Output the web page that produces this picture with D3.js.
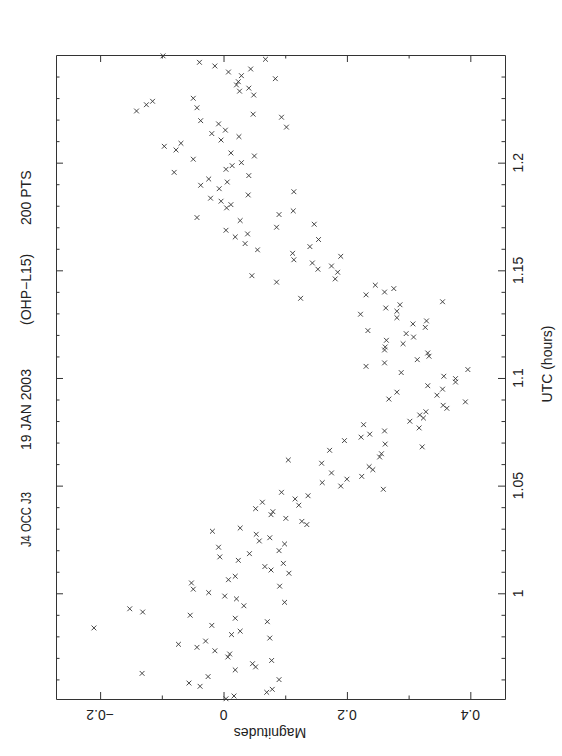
<!DOCTYPE html>
<html>
<head>
<meta charset="utf-8">
<script src="https://cdn.jsdelivr.net/npm/d3@7"></script>
<style>
  body { margin: 0; background: #fff; }
  svg text { font-family: "Liberation Sans", Arial, Helvetica, sans-serif; fill: #222; }
  .axis path, .axis line { stroke: #333; stroke-width: 1; }
</style>
</head>
<body>
<div class="chart"></div>
<script>
// J4 OCC J3 light curve, 200 points (UTC hours, magnitudes)
var utcHours = [
  1.2496, 1.2466, 1.2449, 1.2421, 1.2404, 1.2435, 1.2480, 1.2390, 1.2376, 1.2361,
  1.2332, 1.2346, 1.2314, 1.2299, 1.2285, 1.2269, 1.2240, 1.2255, 1.2225, 1.2211,
  1.2195, 1.2180, 1.2151, 1.2135, 1.2121, 1.2105, 1.2090, 1.2076, 1.2059, 1.2045,
  1.2031, 1.2016, 1.2000, 1.1986, 1.1969, 1.1955, 1.1940, 1.1924, 1.1910, 1.1895,
  1.1879, 1.1850, 1.1835, 1.1821, 1.1805, 1.1790, 1.1759, 1.1745, 1.1731, 1.1700,
  1.1686, 1.1669, 1.1655, 1.1624, 1.1595, 1.1475, 1.1445,
  1.2165, 1.1865, 1.1776, 1.1714, 1.1643, 1.1610, 1.1579, 1.1549, 1.1565, 1.1534,
  1.1505, 1.1520, 1.1491, 1.1460, 1.1431, 1.1386, 1.1399, 1.1415, 1.1370, 1.1354,
  1.1340, 1.1325, 1.1310, 1.1296, 1.1280, 1.1265, 1.1251, 1.1235, 1.1220, 1.1206,
  1.1190, 1.1175, 1.1159, 1.1144, 1.1130, 1.1116, 1.1101, 1.1085, 1.1070, 1.1054,
  1.1039, 1.1025, 1.1008,
  1.0469, 1.0393, 1.0423, 1.0379, 1.0365, 1.0288, 1.0303, 1.0274, 1.0243, 1.0258,
  1.0198, 1.0214, 1.0169, 1.0153, 1.0184, 1.0124, 1.0108,
  1.0033, 1.0048, 1.0019, 1.0063, 1.0079, 1.0003, 0.9987, 0.9974, 0.9942, 0.9928,
  0.9913, 0.9898, 0.9884, 0.9868, 0.9839, 0.9851, 0.9808, 0.9824, 0.9792, 0.9763,
  0.9778, 0.9749, 0.9733, 0.9718, 0.9704, 0.9688, 0.9673, 0.9658, 0.9644, 0.9628,
  0.9613, 0.9599, 0.9583, 0.9568, 0.9554, 0.9540, 0.9523, 0.9510,
  1.0997, 1.0981, 1.0964, 1.0948, 1.0920, 1.0934, 1.0902, 1.0889, 1.0873, 1.0859,
  1.0843, 1.0828, 1.0814, 1.0799, 1.0783, 1.0768, 1.0754, 1.0739, 1.0725, 1.0709,
  1.0693, 1.0680, 1.0664, 1.0648, 1.0633, 1.0619, 1.0604, 1.0588, 1.0574, 1.0559,
  1.0543, 1.0530, 1.0514, 1.0498, 1.0483,
  1.0453, 1.0438, 1.0409, 1.0348, 1.0334, 1.0319, 1.0229, 1.0139, 1.0093, 0.9958
];

var magnitudes = [
  -0.098, -0.039, -0.014, 0.008, 0.029, 0.044, 0.068, 0.084, 0.024, 0.021,
  0.026, 0.041, 0.049, -0.049, -0.115, -0.125, -0.141, -0.043, 0.048, 0.094,
  -0.037, -0.008, 0.003, -0.019, 0.025, -0.004, -0.069, -0.096, -0.077, 0.012,
  0.050, -0.049, 0.029, 0.014, 0.004, -0.080, 0.041, -0.024, 0.006, -0.037,
  -0.007, 0.040, -0.021, -0.004, 0.012, 0.005, 0.090, -0.043, 0.027, 0.086,
  0.004, 0.039, 0.019, 0.035, 0.055, 0.046, 0.086,
  0.102, 0.114, 0.113, 0.147, 0.154, 0.140, 0.112, 0.114, 0.190, 0.144,
  0.153, 0.175, 0.185, 0.181, 0.246, 0.231, 0.261, 0.276, 0.125, 0.355,
  0.286, 0.263, 0.281, 0.222, 0.281, 0.329, 0.307, 0.327, 0.234, 0.296,
  0.308, 0.264, 0.291, 0.262, 0.261, 0.331, 0.333, 0.314, 0.261, 0.231,
  0.396, 0.288, 0.357,
  0.094, 0.052, 0.063, 0.080, 0.077, -0.018, 0.027, 0.053, 0.058, 0.075,
  0.090, -0.008, -0.006, 0.024, 0.042, 0.067, 0.077,
  0.091, -0.052, -0.049, 0.008, 0.019, -0.024, 0.002, 0.021, 0.033, -0.152,
  -0.131, -0.054, 0.019, 0.071, -0.210, -0.019, 0.013, 0.027, 0.075, -0.073,
  -0.029, -0.043, -0.014, 0.010, 0.007, 0.078, 0.047, 0.052, 0.019, -0.132,
  -0.025, 0.090, -0.056, -0.038, 0.079, 0.070, 0.017, 0.004,
  0.376, 0.376, 0.331, 0.355, 0.346, 0.281, 0.268, 0.392, 0.356, 0.362,
  0.328, 0.318, 0.324, 0.302, 0.227, 0.317, 0.261, 0.237, 0.223, 0.196,
  0.262, 0.322, 0.172, 0.256, 0.253, 0.105, 0.159, 0.236, 0.242, 0.175,
  0.224, 0.200, 0.160, 0.190, 0.259,
  0.137, 0.116, 0.122, 0.101, 0.127, 0.135, 0.099, 0.097, 0.106, 0.099
];

var magMajor = [-0.2, 0, 0.2, 0.4];
var magMinor = [-0.1, 0.1, 0.3];
var magLabels = ["\u22120.2", "0", "0.2", "0.4"];
var utcMajor = [1, 1.05, 1.1, 1.15, 1.2];
var utcLabels = ["1", "1.05", "1.1", "1.15", "1.2"];
var utcMinor = [0.96, 0.97, 0.98, 0.99, 1.01, 1.02, 1.03, 1.04, 1.06, 1.07, 1.08, 1.09,
  1.11, 1.12, 1.13, 1.14, 1.16, 1.17, 1.18, 1.19, 1.21, 1.22, 1.23, 1.24];
var titleParts = ["J4 OCC J3", "19 JAN 2003", "(OHP\u2212L15)", "200 PTS"];

var svgWidth = 562;
var svgHeight = 756;

// the page is a landscape plot turned a quarter turn: magnitude runs across, UTC runs up
var frameL = 56, frameR = 505, frameT = 55, frameB = 699;

var svg = d3.select(".chart")
  .append("svg")
  .attr("width", svgWidth)
  .attr("height", svgHeight);

var x = d3.scaleLinear().domain([-0.2715, 0.4562]).range([frameL, frameR]);
var y = d3.scaleLinear().domain([0.9509, 1.25]).range([frameB, frameT]);

// frame with ticks on all sides, pointing inward
function frameSide(axis, tx, ty, vals, size, keepDomain) {
  var g = svg.append("g")
    .attr("class", "axis")
    .attr("transform", "translate(" + tx + "," + ty + ")")
    .call(axis.tickValues(vals).tickSizeInner(-size).tickSizeOuter(0).tickFormat(""));
  if (!keepDomain) g.select(".domain").remove();
  g.selectAll("text").remove();
}

frameSide(d3.axisBottom(x), 0, frameB, magMajor, 7, true);
frameSide(d3.axisTop(x), 0, frameT, magMajor, 7, true);
frameSide(d3.axisBottom(x), 0, frameB, magMinor, 3.5, false);
frameSide(d3.axisTop(x), 0, frameT, magMinor, 3.5, false);
frameSide(d3.axisLeft(y), frameL, 0, utcMajor, 7, true);
frameSide(d3.axisRight(y), frameR, 0, utcMajor, 7, true);
frameSide(d3.axisLeft(y), frameL, 0, utcMinor, 3.5, false);
frameSide(d3.axisRight(y), frameR, 0, utcMinor, 3.5, false);

// tick labels (turned with the page)
svg.selectAll(".maglab")
  .data(magMajor)
  .enter().append("text")
  .attr("transform", function(d) { return "translate(" + x(d) + ",715) rotate(180)"; })
  .attr("text-anchor", "middle")
  .attr("dy", "0.35em")
  .style("font-size", "14px")
  .text(function(d, i) { return magLabels[i]; });

svg.selectAll(".utclab")
  .data(utcMajor)
  .enter().append("text")
  .attr("transform", function(d) { return "translate(518.5," + y(d) + ") rotate(-90)"; })
  .attr("text-anchor", "middle")
  .attr("dy", "0.35em")
  .style("font-size", "14px")
  .text(function(d, i) { return utcLabels[i]; });

// axis titles
svg.append("text")
  .attr("transform", "translate(547," + y(1.1065) + ") rotate(-90)")
  .attr("text-anchor", "middle")
  .attr("dy", "0.35em")
  .style("font-size", "14px")
  .text("UTC (hours)");

svg.append("text")
  .attr("transform", "translate(270,733) rotate(180)")
  .attr("text-anchor", "middle")
  .attr("dy", "0.35em")
  .style("font-size", "14px")
  .text("Magnitudes");

// heading along the old top edge
var titleStart = [547, 450, 325, 225];
svg.selectAll(".title")
  .data(titleParts)
  .enter().append("text")
  .attr("transform", function(d, i) { return "translate(26," + titleStart[i] + ") rotate(-90)"; })
  .attr("text-anchor", "start")
  .attr("dy", "0.35em")
  .style("font-size", "14px")
  .text(function(d) { return d; });

// the first heading piece is set narrower in the original font
svg.selectAll("text")
  .filter(function(d) { return d === "J4 OCC J3"; })
  .attr("textLength", 55)
  .attr("lengthAdjust", "spacingAndGlyphs");

// the points, drawn as small crosses
var points = utcHours.map(function(t, i) { return { utc: t, mag: magnitudes[i] }; });

svg.append("g")
  .selectAll("path")
  .data(points)
  .enter().append("path")
  .attr("transform", function(d) { return "translate(" + x(d.mag) + "," + y(d.utc) + ")"; })
  .attr("d", "M-2.4,-2.4L2.4,2.4M-2.4,2.4L2.4,-2.4")
  .attr("fill", "none")
  .attr("stroke", "#333")
  .attr("stroke-width", 0.9);
</script>
</body>
</html>
